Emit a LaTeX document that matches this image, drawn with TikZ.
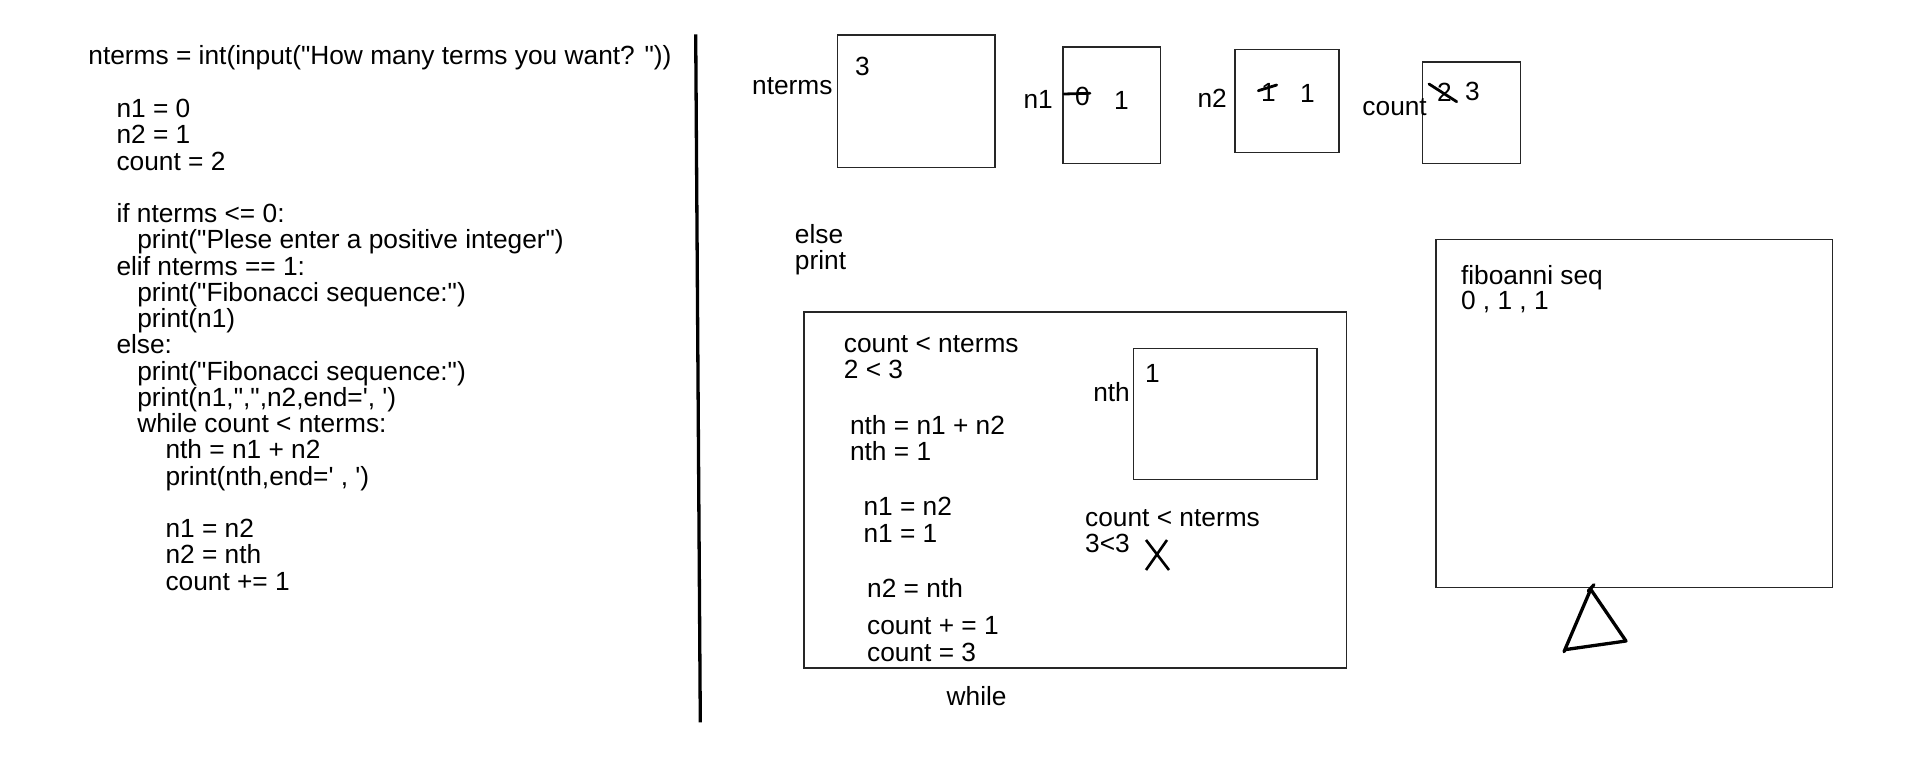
\documentclass[tikz,border=0pt]{standalone}
\usepackage{fontspec}
\newfontfamily\arial{Liberation Sans}
\begin{document}
\begin{tikzpicture}[x=1pt,y=-1pt,
  txt/.style={anchor=base west, inner sep=0pt, font=\arial\fontsize{26.3}{26.3}\selectfont},
  rtxt/.style={txt, anchor=base east},
  box/.style={draw=black!85, line width=1.5pt, anchor=north west, inner sep=0pt},
  heavy/.style={line width=3.3pt, line cap=round, line join=round},
  strike/.style={line width=2.8pt, line cap=round}]
\useasboundingbox[fill=white] (0,0) rectangle (1920,760);

% ---------------- code listing ----------------
\node[txt] (c0)  at (88.2,64.5)  {nterms = int(input("How many terms you want? "))};
\node[txt] (c2)  at (116.3,117.5) {n1 = 0};
\node[txt] (c3)  at (116.3,143.8) {n2 = 1};
\node[txt] (c4)  at (116.3,170.0) {count = 2};
\node[txt] (c6)  at (116.3,222.6) {if nterms <= 0:};
\node[txt] (c7)  at (137.1,248.8) {print("Plese enter a positive integer")};
\node[txt] (c8)  at (116.3,275.1) {elif nterms == 1:};
\node[txt] (c9)  at (137.1,301.3) {print("Fibonacci sequence:")};
\node[txt] (c10) at (137.1,327.6) {print(n1)};
\node[txt] (c11) at (116.3,353.9) {else:};
\node[txt] (c12) at (137.1,380.1) {print("Fibonacci sequence:")};
\node[txt] (c13) at (137.1,406.4) {print(n1,",",n2,end=', ')};
\node[txt] (c14) at (137.1,432.6) {while count < nterms:};
\node[txt] (c15) at (165.3,458.9) {nth = n1 + n2};
\node[txt] (c16) at (165.3,485.2) {print(nth,end=' , ')};
\node[txt] (c18) at (165.3,537.7) {n1 = n2};
\node[txt] (c19) at (165.3,563.9) {n2 = nth};
\node[txt] (c20) at (165.3,590.2) {count += 1};

% ---------------- divider ----------------
\coordinate (divtop) at (695.7,34.3);
\coordinate (divbot) at (700.3,722.3);
\draw[line width=3.3pt] (divtop) -- (divbot);

% ---------------- variable boxes ----------------
\node[box, minimum width=157.8pt, minimum height=132pt]  (ntbox) at (836.5,34.5) {};
\node[rtxt] (ntlab) at (832.7,94.5) {nterms};
\node[txt]  (ntval) at (855,75.5) {3};

\node[box, minimum width=97.6pt, minimum height=116.4pt] (n1box) at (1062,46.5) {};
\node[rtxt] (n1lab) at (1053,108.5) {n1};
\node[txt]  (n1old) at (1075,105) {0};
\node[txt]  (n1new) at (1114,109.3) {1};
\coordinate (s1a) at (1064,94);
\coordinate (s1b) at (1090,93.3);
\draw[strike] (s1a) -- (s1b);

\node[box, minimum width=104.1pt, minimum height=102.8pt] (n2box) at (1234.3,49) {};
\node[rtxt] (n2lab) at (1227,107.5) {n2};
\node[txt]  (n2old) at (1261,101.7) {1};
\node[txt]  (n2new) at (1300,102.7) {1};
\coordinate (s2a) at (1258.3,90.7);
\coordinate (s2b) at (1276.7,85);
\draw[strike] (s2a) -- (s2b);

\node[box, minimum width=97.9pt, minimum height=101.7pt] (cbox) at (1421.7,61.2) {};
\node[rtxt] (clab) at (1427,115) {count};
\node[txt]  (cold) at (1437,101.7) {2};
\node[txt]  (cnew) at (1465,100.7) {3};
\coordinate (s3a) at (1429,84);
\coordinate (s3b) at (1456.7,101.7);
\draw[strike] (s3a) -- (s3b);

% ---------------- else / print ----------------
\node[txt] (else) at (794.7,243.5) {else};
\node[txt] (prnt) at (794.7,269.5) {print};

% ---------------- while box ----------------
\node[box, minimum width=542.4pt, minimum height=356.4pt] (wbox) at (803.3,311) {};
\node[txt] (wlab) at (946.5,705.4) {while};
\node[txt] (w1) at (843.7,352.7) {count < nterms};
\node[txt] (w2) at (843.7,378.4) {2 < 3};
\node[txt] (w3) at (849.8,434.7) {nth = n1 + n2};
\node[txt] (w4) at (849.8,460.4) {nth = 1};
\node[txt] (w5) at (863.3,515.6) {n1 = n2};
\node[txt] (w6) at (863.3,542.4) {n1 = 1};
\node[txt] (w7) at (867,597.6) {n2 = nth};
\node[txt] (w8) at (867,634.5) {count + = 1};
\node[txt] (w9) at (867,661.3) {count = 3};

\node[box, minimum width=183.6pt, minimum height=131pt] (nthbox) at (1132.7,347.8) {};
\node[rtxt] (nthlab) at (1130,401.7) {nth};
\node[txt]  (nthval) at (1145,382.4) {1};

\node[txt] (w10) at (1085,526.6) {count < nterms};
\node[txt] (w11) at (1085,552.3) {3<3};
\coordinate (xa) at (1146,540);
\coordinate (xb) at (1169,570);
\coordinate (xc) at (1167,540);
\coordinate (xd) at (1146,570);
\draw[line width=2.6pt] (xa) -- (xb) (xc) -- (xd);

% ---------------- output box ----------------
\node[box, minimum width=396.9pt, minimum height=347.7pt] (fbox) at (1435,238.8) {};
\node[txt] (f1) at (1460.8,284.1) {fiboanni seq};
\node[txt] (f2) at (1460.8,309.5) {0 , 1 , 1};

% ---------------- triangle ----------------
\coordinate (tapex) at (1590.7,589.3);
\coordinate (tbr) at (1626,641);
\coordinate (tbl) at (1564,651.7);
\coordinate (tka) at (1588.3,591);
\coordinate (tkb) at (1594,584.7);
\draw[heavy] (tbl) -- (tapex) -- (tbr) -- (1566,649.5);
\draw[heavy] (tka) -- (tkb);
\end{tikzpicture}
\end{document}
